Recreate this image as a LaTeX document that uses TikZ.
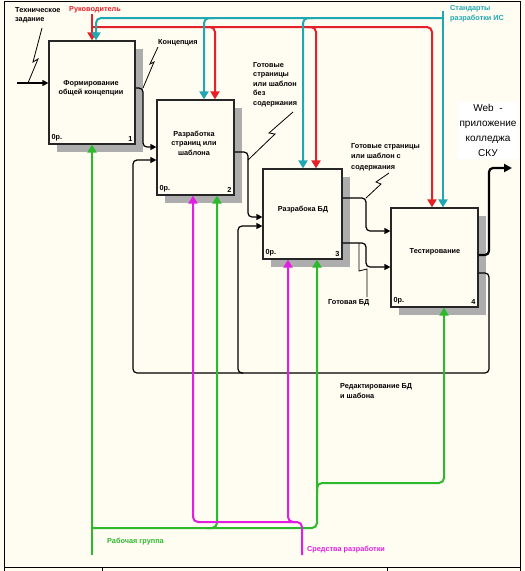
\documentclass[tikz,border=0pt]{standalone}
\usepackage{fontspec}
\setmainfont{Liberation Sans}
\usetikzlibrary{patterns,shadows,arrows.meta}
\definecolor{bgc}{RGB}{255,252,242}
\definecolor{cred}{RGB}{228,32,40}
\definecolor{cteal}{RGB}{32,168,178}
\definecolor{cgreen}{RGB}{44,186,44}
\definecolor{cmag}{RGB}{226,30,226}
\begin{document}
\begin{tikzpicture}[x=1pt,y=-1pt,
  box/.style={draw=black!85, line width=1.2pt, fill=bgc, inner sep=0pt,
    general shadow={shadow xshift=8pt, shadow yshift=-8pt, fill=black!32}},
  boxtxt/.style={font=\fontsize{7.3}{9.5}\selectfont\bfseries, align=center, inner sep=0pt},
  small/.style={font=\fontsize{7.3}{8}\selectfont\bfseries, inner sep=0pt},
  lbl/.style={font=\fontsize{7.3}{9.5}\selectfont\bfseries, inner sep=0pt, align=left, anchor=north west},
  arrb/.style={draw=black, line width=1.2pt, rounded corners=4pt, -{Triangle[length=6pt,width=6pt]}},
  arrc/.style={line width=2pt, rounded corners=5pt, -{Triangle[length=8pt,width=9pt]}},
  sq/.style={draw=black, line width=0.8pt}
]
\useasboundingbox (0,0) rectangle (525,571);
\fill[bgc] (0,0) rectangle (525,571);
\draw[line width=1pt] (4,1) rectangle (520,567);
\draw[line width=1pt] (4,567) -- (4,571) (102,567) -- (102,571) (387,567) -- (387,571) (520,567) -- (520,571);

% boxes
\node[box, minimum width=86pt, minimum height=103pt] (b1) at (92,92.5) {};
\node[box, minimum width=77pt, minimum height=95pt] (b2) at (195.5,147.5) {};
\node[box, minimum width=79pt, minimum height=90pt] (b3) at (302.5,214) {};
\node[box, minimum width=87pt, minimum height=99pt] (b4) at (434.5,257.5) {};

\node[boxtxt] (t1) at (91,88) {Формирование\\общей концепции};
\node[boxtxt] (t2) at (194,143) {Разработка\\страниц или\\шаблона};
\node[boxtxt] (t3) at (303,210) {Разрабока БД};
\node[boxtxt] (t4) at (435,252) {Тестирование};

\node[small, anchor=south west] (n1a) at ([xshift=3pt,yshift=3pt]b1.south west) {0р.};
\node[small, anchor=south east] (n1b) at ([xshift=-3pt,yshift=3pt]b1.south east) {1};
\node[small, anchor=south west] (n2a) at ([xshift=3pt,yshift=3pt]b2.south west) {0р.};
\node[small, anchor=south east] (n2b) at ([xshift=-3pt,yshift=3pt]b2.south east) {2};
\node[small, anchor=south west] (n3a) at ([xshift=3pt,yshift=3pt]b3.south west) {0р.};
\node[small, anchor=south east] (n3b) at ([xshift=-3pt,yshift=3pt]b3.south east) {3};
\node[small, anchor=south west] (n4a) at ([xshift=3pt,yshift=3pt]b4.south west) {0р.};
\node[small, anchor=south east] (n4b) at ([xshift=-3pt,yshift=3pt]b4.south east) {4};

% black connectors
\coordinate (tin) at (17,83);
\draw[arrb] (tin) -- (b1.west |- tin);
\draw[arrb] ([yshift=4.5pt]b1.east) -- (143,88) -- (143,147) -- (b2.west |- 0,147);
\draw[arrb] (b2.east |- 0,152) -- (248,152) -- (248,217) -- (b3.west |- 0,217);
\draw[arrb] (b3.east |- 0,198) -- (366,198) -- (366,231) -- (b4.west |- 0,231);
\draw[arrb] (b3.east |- 0,243) -- (366,243) -- (366,267) -- (b4.west |- 0,267);
\draw[arrb] (b4.east |- 0,273) -- (489,273) -- (489,373) -- (133,373) -- (133,160) -- (b2.west |- 0,160);
\draw[arrb] (243,373) -- (238,373) -- (238,226) -- (b3.west |- 0,226);
\coordinate (wend) at (512,168);
\draw[draw=black, line width=2.2pt, rounded corners=4pt, -{Triangle[length=8pt,width=8pt]}] (b4.east |- 0,255) -- (489,255) -- (489,168) -- (wend);

% squiggles
\draw[sq] (42,28) -- (33,62) -- (38,59) -- (28,83);
\draw[sq] (158,47) -- (150,64) -- (154,62) -- (143,88);
\draw[sq] (293,112) -- (269,133) -- (275,134) -- (248,160);
\draw[sq] (389,173) -- (376,182) -- (381,184) -- (366,198);
\draw[sq] (359,243) -- (359,271) -- (367,269) -- (367,297);

% red controls
\draw[arrc, draw=cred, cred] (92,14) -- (b1.north -| 92,0);
\draw[arrc, draw=cred, cred] (92,27) -- (432,27) -- (b4.north -| 432,0);
\draw[arrc, draw=cred, cred] (205,27) -- (215,27) -- (b2.north -| 215,0);
\draw[arrc, draw=cred, cred] (306,27) -- (316,27) -- (b3.north -| 316,0);

% teal controls
\draw[arrc, draw=cteal, cteal] (443,11) -- (b4.north -| 443,0);
\draw[arrc, draw=cteal, cteal] (443,18) -- (96,18) -- (b1.north -| 96,0);
\draw[arrc, draw=cteal, cteal] (214,18) -- (204,18) -- (b2.north -| 204,0);
\draw[arrc, draw=cteal, cteal] (313,18) -- (303,18) -- (b3.north -| 303,0);

% green mechanisms
\draw[arrc, draw=cgreen, cgreen] (92,555) -- (b1.south -| 92,0);
\draw[arrc, draw=cgreen, cgreen] (92,528) -- (317,528) -- (b3.south -| 317,0);
\draw[arrc, draw=cgreen, cgreen] (207,528) -- (217,528) -- (b2.south -| 217,0);
\draw[arrc, draw=cgreen, cgreen] (317,493) -- (317,483) -- (444,483) -- (b4.south -| 444,0);

% magenta mechanisms
\draw[arrc, draw=cmag, cmag] (302,555) -- (302,522) -- (193,522) -- (b2.south -| 193,0);
\draw[arrc, draw=cmag, cmag] (297,522) -- (288,522) -- (b3.south -| 288,0);

% labels
\node[lbl] (l1) at (15,7) {Техническое\\задание};
\node[lbl, text=cred] (l2) at (69,6) {Руководитель};
\node[lbl, text=cteal, font=\fontsize{7.3}{10.5}\selectfont\bfseries] (l3) at (450,5) {Стандарты\\разработки ИС};
\node[lbl] (l4) at (158,39) {Концепция};
\node[lbl] (l5) at (253,62) {Готовые\\страницы\\или шаблон\\без\\содержания};
\node[lbl, font=\fontsize{7.3}{10.5}\selectfont\bfseries] (l6) at (351,143) {Готовые страницы\\или шаблон с\\содержания};
\node[lbl] (l7) at (328,299) {Готовая БД};
\node[lbl, font=\fontsize{7.3}{10}\selectfont\bfseries] (l8) at (340,383) {Редактирование БД\\и шабона};
\node[lbl, text=cgreen] (l9) at (107,538) {Рабочая группа};
\node[lbl, text=cmag] (l10) at (307,546) {Средства разработки};
\node[font=\fontsize{10}{15}\selectfont, align=center, fill=white, inner sep=2pt] (web) at (488,130.5) {Web~~-\\приложение\\колледжа\\СКУ};
\end{tikzpicture}
\end{document}
